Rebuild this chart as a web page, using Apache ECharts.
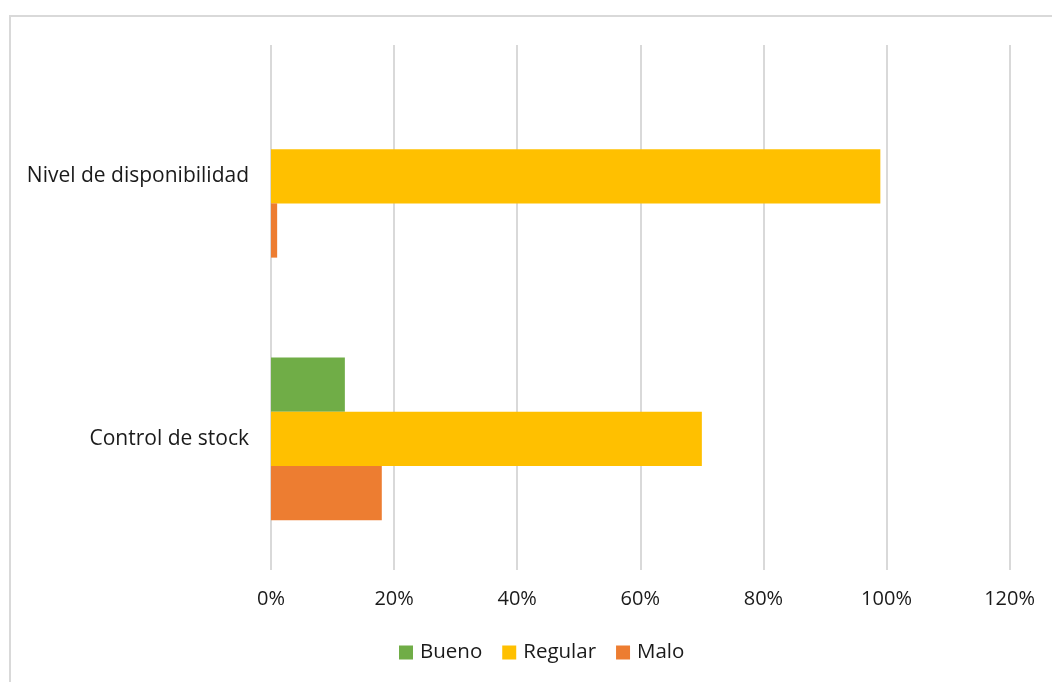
<!DOCTYPE html>
<html>
<head>
<meta charset="utf-8">
<script src="https://cdn.jsdelivr.net/npm/echarts@6/dist/echarts.min.js"></script>
<style>
  html, body { margin: 0; padding: 0; background: #fff; }
  #chart { width: 1052px; height: 682px; }
</style>
</head>
<body>
<div id="chart"></div>
<script>
// Categories listed bottom to top (ECharts category y axis starts at the bottom)
const categories = ['Control de stock', 'Nivel de disponibilidad'];
const seriesNames = ['Bueno', 'Regular', 'Malo'];
const bueno   = [12, 0];
const regular = [70, 99];
const malo    = [18, 1];
const colors = ['#70AD47', '#FFC000', '#ED7D31'];

const FONT = 'Open Sans';
const TEXT = '#1a1a1a';
const chart = echarts.init(document.getElementById('chart'));

const values = [bueno, regular, malo];
chart.setOption({
  animation: false,
  textStyle: { fontFamily: FONT },
  graphic: [{
    type: 'rect',
    shape: { x: 10, y: 16, width: 1060, height: 700 },
    style: { fill: 'none', stroke: '#d9d9d9', lineWidth: 2 },
    silent: true
  }],
  grid: { left: 271, right: 42.4, top: 45, bottom: 112 },
  legend: {
    data: seriesNames,
    bottom: 14,
    left: 394,
    itemWidth: 14,
    itemHeight: 14,
    itemGap: 20,
    icon: 'rect',
    textStyle: { fontFamily: FONT, fontSize: 20.5, color: TEXT, padding: [0, 0, 0, 2] }
  },
  xAxis: {
    type: 'value',
    min: 0,
    max: 120,
    interval: 20,
    axisLine: { show: false },
    axisTick: { show: false },
    axisLabel: {
      formatter: '{value}%',
      fontFamily: FONT,
      fontSize: 20,
      color: TEXT,
      margin: 19
    },
    splitLine: { lineStyle: { color: '#d9d9d9', width: 2 } }
  },
  yAxis: {
    type: 'category',
    data: categories,
    axisLine: { show: false },
    axisTick: { show: false },
    axisLabel: { fontFamily: FONT, fontSize: 21, color: TEXT, margin: 22 }
  },
  series: seriesNames.map((name, i) => ({
    name: name,
    type: 'bar',
    data: values[i],
    barGap: '0%',
    barCategoryGap: '38%',
    itemStyle: { color: colors[i] }
  }))
});
</script>
</body>
</html>
